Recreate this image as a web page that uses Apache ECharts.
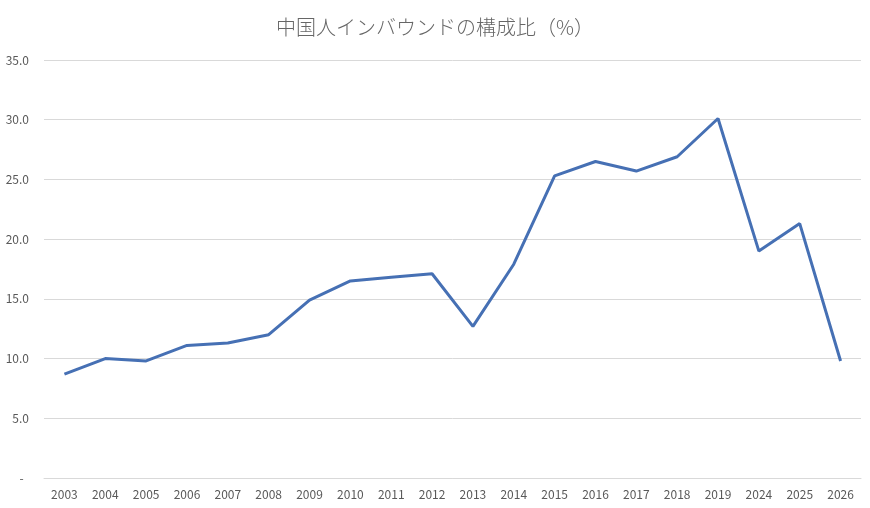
<!DOCTYPE html>
<html>
<head>
    <meta charset="utf-8">
    <title>中国人インバウンドの構成比</title>
    <script src="https://cdn.jsdelivr.net/npm/echarts@6/dist/echarts.min.js"></script>
    <style>
        html, body { margin: 0; padding: 0; background: #fff; }
        #main { width: 870px; height: 508px; }
    </style>
</head>
<body>
<div id="main"></div>
<script type="text/javascript">
    // 年
    var years = ['2003', '2004', '2005', '2006', '2007', '2008', '2009', '2010', '2011', '2012',
                 '2013', '2014', '2015', '2016', '2017', '2018', '2019', '2024', '2025', '2026'];
    // 構成比（%）
    var shares = [8.7, 10.0, 9.8, 11.1, 11.3, 12.0, 14.9, 16.5, 16.8, 17.1,
                  12.7, 17.9, 25.3, 26.5, 25.7, 26.9, 30.1, 19.0, 21.3, 9.8];

    var myChart = echarts.init(document.getElementById('main'));
    var font = '"Noto Sans CJK JP", "Noto Sans", sans-serif';

    var option = {
        backgroundColor: '#ffffff',
        title: {
            text: '中国人インバウンドの構成比（%）',
            left: 271,
            top: 12,
            textStyle: {
                fontFamily: font,
                fontSize: 20,
                fontWeight: 300,
                color: '#666666'
            }
        },
        grid: {
            left: 44,
            right: 9,
            top: 60,
            bottom: 30
        },
        xAxis: {
            type: 'category',
            data: years,
            boundaryGap: true,
            axisLine: { lineStyle: { color: '#d9d9d9' } },
            axisTick: { show: false },
            axisLabel: {
                color: '#595959',
                fontFamily: font,
                fontSize: 12,
                margin: 10
            }
        },
        yAxis: {
            type: 'value',
            min: 0,
            max: 35,
            interval: 5,
            axisLine: { show: false },
            axisTick: { show: false },
            splitLine: { lineStyle: { color: '#d9d9d9' } },
            axisLabel: {
                color: '#595959',
                fontFamily: font,
                fontSize: 12,
                margin: 15,
                formatter: function (v) {
                    return v === 0 ? '-  ' : v.toFixed(1);
                }
            }
        },
        series: [{
            type: 'line',
            data: shares,
            showSymbol: false,
            lineStyle: { color: '#4670B4', width: 3 },
            itemStyle: { color: '#4670B4' }
        }]
    };

    myChart.setOption(option);
</script>
</body>
</html>
